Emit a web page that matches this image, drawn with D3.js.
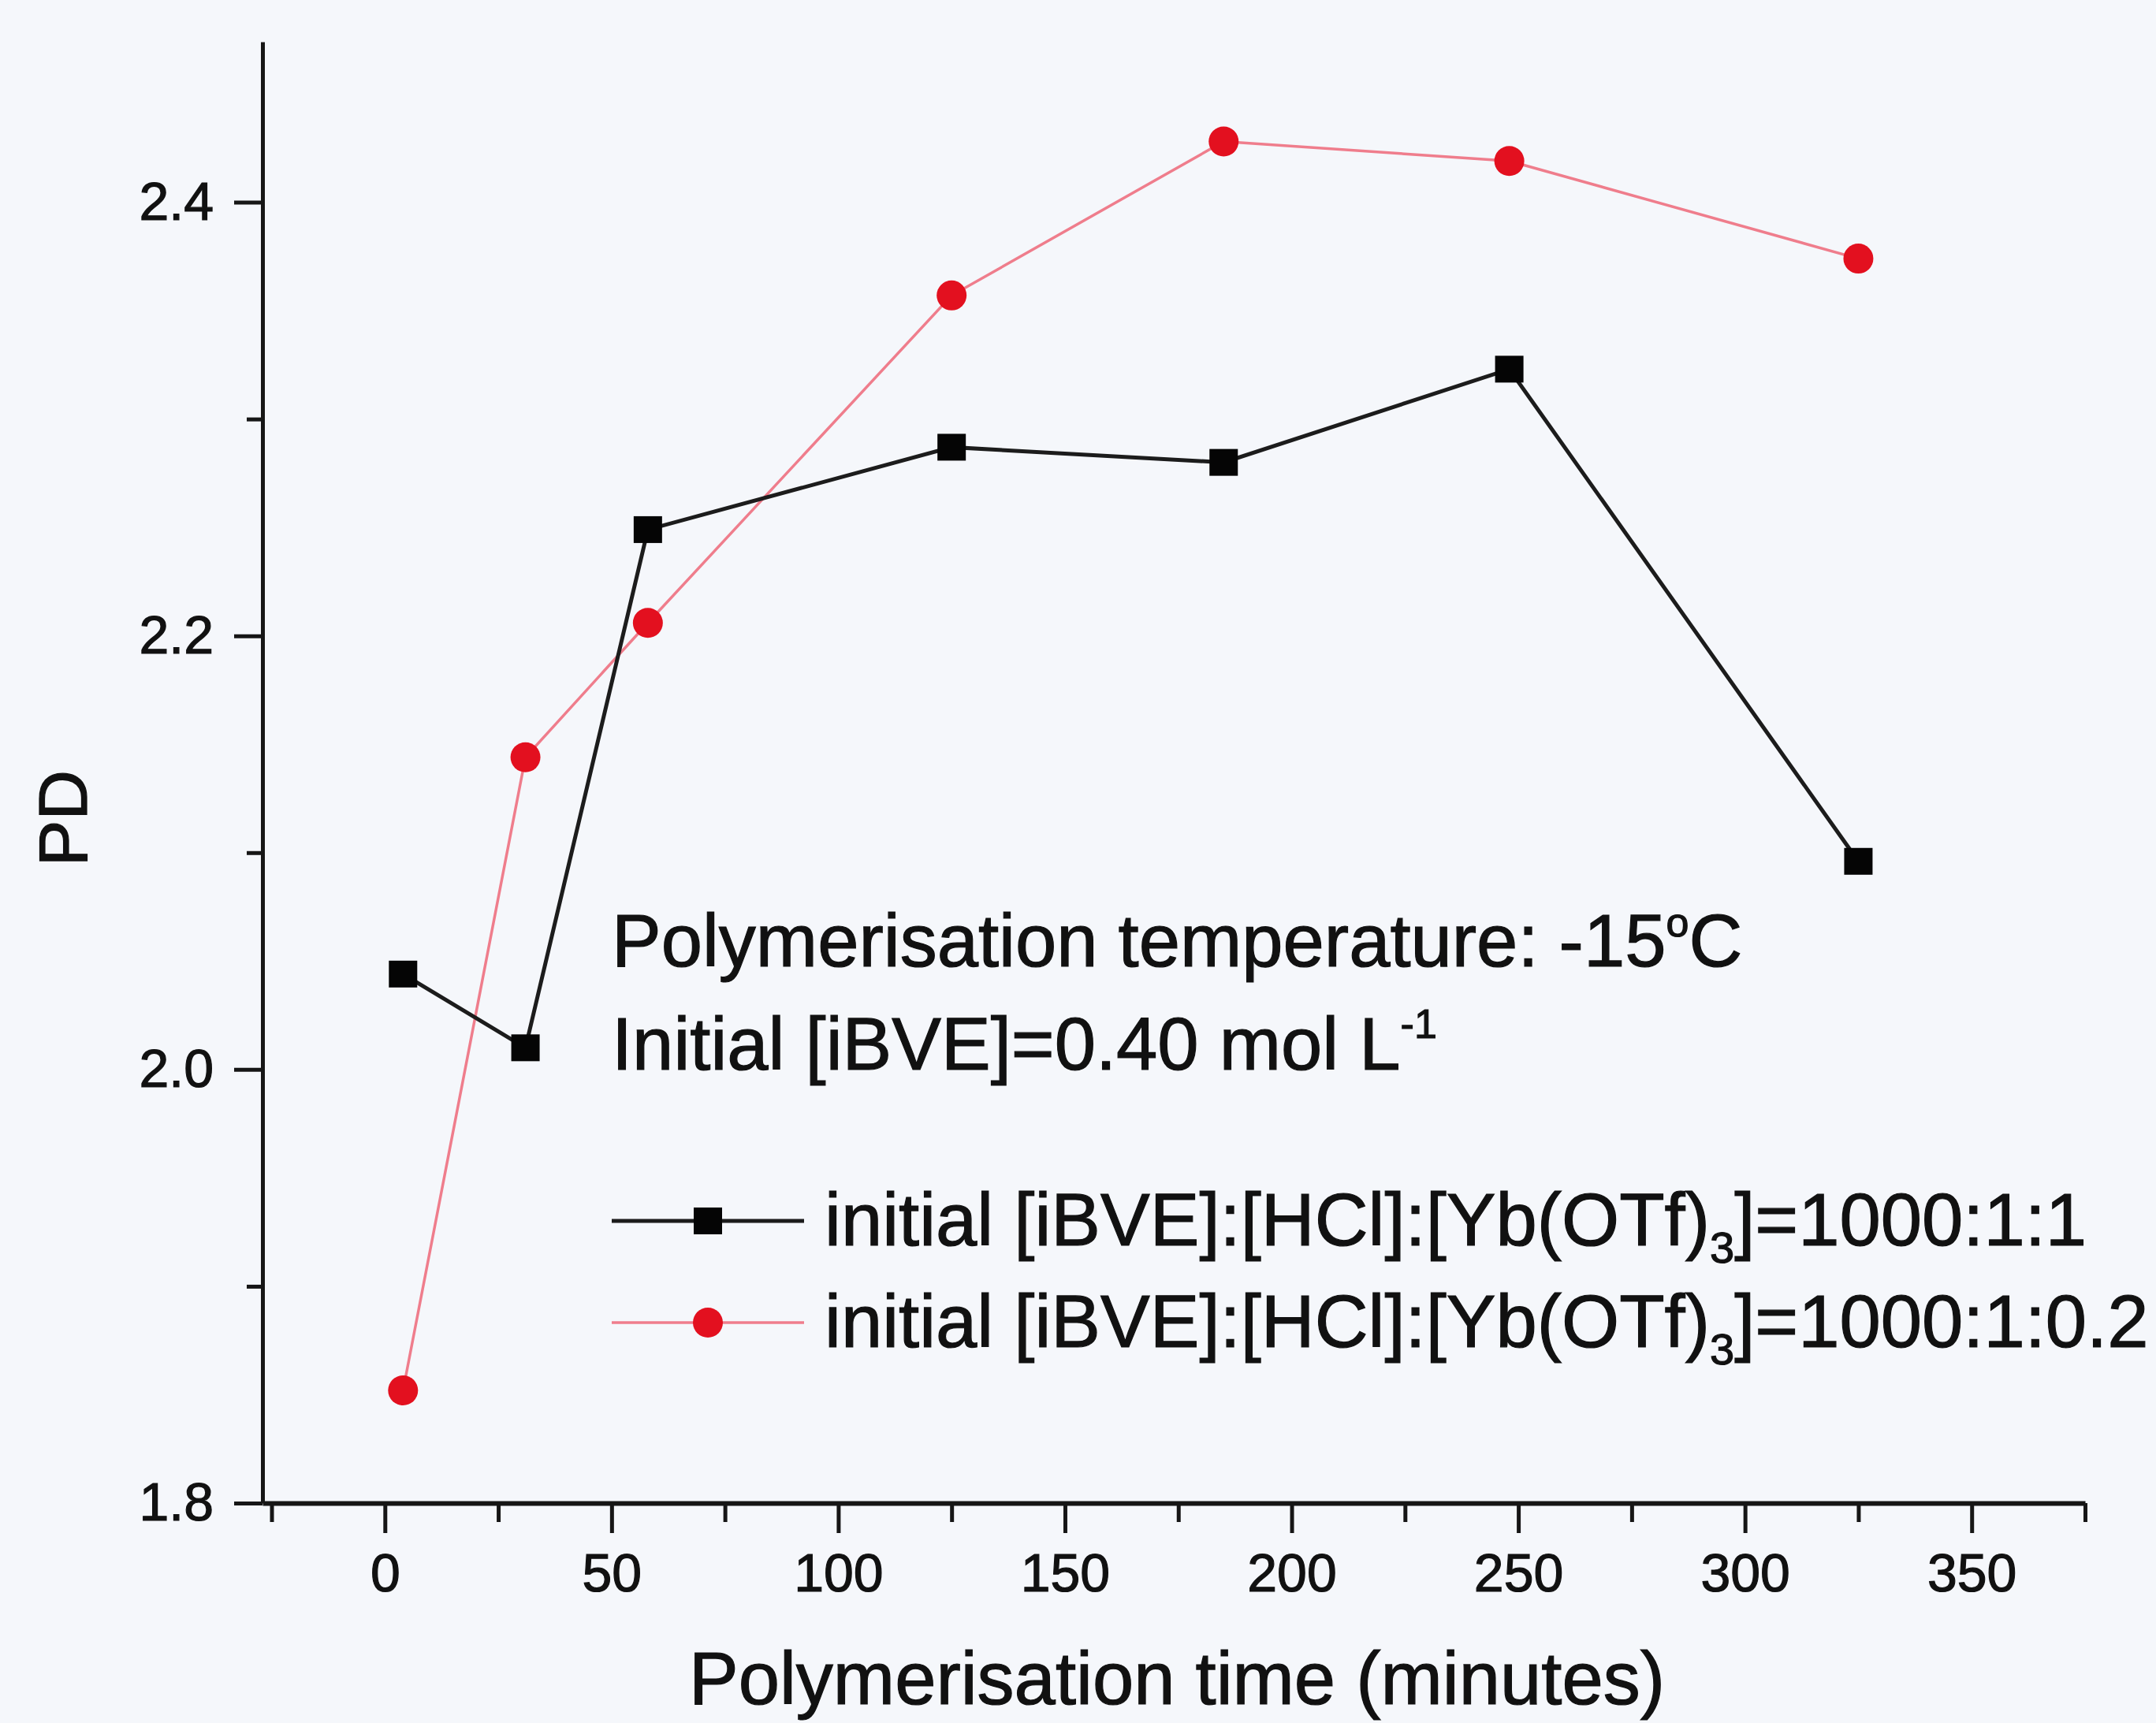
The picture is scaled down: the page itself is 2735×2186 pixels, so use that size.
<html>
  <head>
    <script src="https://d3js.org/d3.v7.min.js"></script>
  <style>
    body { margin: 0; background: #f5f7fb; }
    text { font-family: "Liberation Sans", Arial, sans-serif; fill: #111; stroke: #111; stroke-width: 1.2px; }
    .axis path, .axis line { stroke: #161616; }
    .tick text { font-size: 68px; }
  </style>
  </head>

  <body>
    <svg id="mainSVG" width="2735" height="2186"></svg>
  </body>

  <script>
      // data
      const times = [4, 31, 58, 125, 185, 248, 325];
      const pdBlack = [2.044, 2.010, 2.249, 2.287, 2.280, 2.323, 2.096];
      const pdRed = [1.852, 2.144, 2.206, 2.357, 2.428, 2.419, 2.374];
      const xTicks = [0, 50, 100, 150, 200, 250, 300, 350];
      const xMinor = [-25, 25, 75, 125, 175, 225, 275, 325, 375];
      const yTicks = [1.8, 2.0, 2.2, 2.4];
      const yMinor = [1.9, 2.1, 2.3];

      const svg = d3.select("#mainSVG");

      const xScale = d3.scaleLinear().domain([-27, 375]).range([333, 2645]);
      const yScale = d3.scaleLinear().domain([1.8, 2.474]).range([1907, 53]);
      const y0 = yScale(1.8);
      const x0 = xScale(-27);

      // minor ticks first so the major axes sit on top
      svg.append("g")
        .attr("class", "axis")
        .attr("transform", `translate(0,${y0})`)
        .call(d3.axisBottom(xScale).tickValues(xMinor).tickSize(24).tickSizeOuter(0).tickFormat(""))
        .call(g => g.select(".domain").remove())
        .selectAll("line").attr("stroke-width", 5);

      svg.append("g")
        .attr("class", "axis")
        .attr("transform", `translate(${x0},0)`)
        .call(d3.axisLeft(yScale).tickValues(yMinor).tickSize(20).tickSizeOuter(0).tickFormat(""))
        .call(g => g.select(".domain").remove())
        .selectAll("line").attr("stroke-width", 5);

      // x axis
      const xAxis = svg.append("g")
        .attr("class", "axis")
        .attr("transform", `translate(0,${y0})`)
        .call(d3.axisBottom(xScale).tickValues(xTicks).tickSize(38).tickSizeOuter(0).tickPadding(26));
      xAxis.select(".domain").attr("stroke-width", 6);
      xAxis.selectAll("line").attr("stroke-width", 5);

      // y axis
      const yAxis = svg.append("g")
        .attr("class", "axis")
        .attr("transform", `translate(${x0},0)`)
        .call(d3.axisLeft(yScale).tickValues(yTicks).tickSize(36).tickSizeOuter(0).tickPadding(26).tickFormat(d3.format(".1f")));
      yAxis.select(".domain").attr("stroke-width", 5);
      yAxis.selectAll("line").attr("stroke-width", 5);

      // axis titles
      svg.append("text")
        .attr("x", 1493)
        .attr("y", 2162)
        .attr("text-anchor", "middle")
        .style("font-size", "94px")
        .text("Polymerisation time (minutes)");

      svg.append("text")
        .attr("transform", "translate(110,1038) rotate(-90)")
        .attr("text-anchor", "middle")
        .style("font-size", "88px")
        .text("PD");

      // lines
      const line = d3.line()
        .x((d, i) => xScale(times[i]))
        .y(d => yScale(d));

      svg.append("path")
        .datum(pdRed)
        .attr("fill", "none")
        .attr("stroke", "#ef7d8c")
        .attr("stroke-width", 3.5)
        .attr("d", line);

      svg.append("path")
        .datum(pdBlack)
        .attr("fill", "none")
        .attr("stroke", "#1c1c1c")
        .attr("stroke-width", 5)
        .attr("d", line);

      // markers
      svg.selectAll("circle.red")
        .data(pdRed)
        .join("circle")
        .attr("class", "red")
        .attr("cx", (d, i) => xScale(times[i]))
        .attr("cy", d => yScale(d))
        .attr("r", 19)
        .attr("fill", "#e3101f");

      svg.selectAll("rect.black")
        .data(pdBlack)
        .join("rect")
        .attr("class", "black")
        .attr("x", (d, i) => xScale(times[i]) - 18)
        .attr("y", d => yScale(d) - 17)
        .attr("width", 36)
        .attr("height", 34)
        .attr("fill", "#050505");

      // annotation
      const note1 = svg.append("text")
        .attr("x", 776)
        .attr("y", 1226)
        .style("font-size", "94px");
      note1.append("tspan").text("Polymerisation temperature: -15");
      note1.append("tspan").attr("dy", -38).style("font-size", "52px").text("o");
      note1.append("tspan").attr("dy", 38).text("C");

      const note2 = svg.append("text")
        .attr("x", 776)
        .attr("y", 1357)
        .style("font-size", "94px");
      note2.append("tspan").text("Initial [iBVE]=0.40 mol L");
      note2.append("tspan").attr("dy", -40).style("font-size", "52px").text("-1");

      // legend
      const legendRows = [
        { label: "1000:1:1", color: "#1c1c1c", marker: "square", yc: 1549 },
        { label: "1000:1:0.2", color: "#ef7d8c", marker: "circle", yc: 1678 }
      ];

      const legend = svg.append("g");
      legendRows.forEach(r => {
        legend.append("line")
          .attr("x1", 776).attr("x2", 1020)
          .attr("y1", r.yc).attr("y2", r.yc)
          .attr("stroke", r.color)
          .attr("stroke-width", r.marker === "square" ? 5 : 3.5);
        if (r.marker === "square") {
          legend.append("rect")
            .attr("x", 880).attr("y", r.yc - 17)
            .attr("width", 36).attr("height", 34)
            .attr("fill", "#050505");
        } else {
          legend.append("circle")
            .attr("cx", 898).attr("cy", r.yc)
            .attr("r", 19)
            .attr("fill", "#e3101f");
        }
        const t = legend.append("text")
          .attr("x", 1046)
          .attr("y", r.yc + 31)
          .style("font-size", "94px");
        t.append("tspan").text("initial [iBVE]:[HCl]:[Yb(OTf)");
        t.append("tspan").attr("dy", 22).style("font-size", "56px").text("3");
        t.append("tspan").attr("dy", -22).text("]=" + r.label);
      });
  </script>
</html>
